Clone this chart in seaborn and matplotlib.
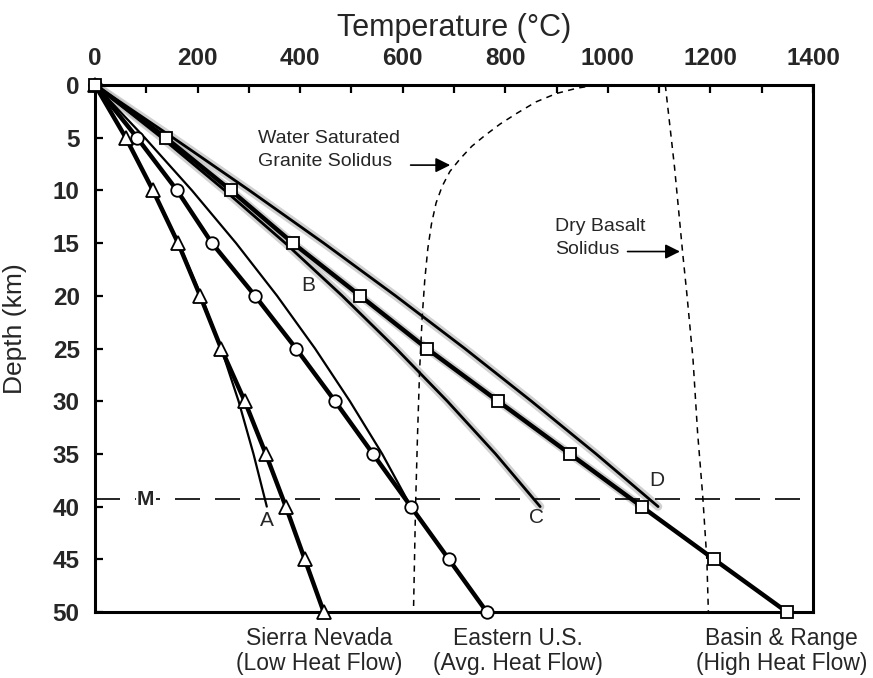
import numpy as np
import seaborn as sns
import matplotlib.pyplot as plt

# Geotherms (depth in km, temperature in deg C)
depth_km = [0, 5, 10, 15, 20, 25, 30, 35, 40, 45, 50]
sierra_nevada_T = [0, 60, 113, 162, 205, 246, 292, 333, 372, 409, 446]
eastern_us_T = [0, 82, 160, 228, 312, 392, 468, 542, 616, 690, 764]
basin_range_T = [0, 138, 265, 386, 517, 647, 786, 926, 1066, 1207, 1349]

# model curves A-D (crust only, down to the Moho)
model_depth = [0, 5, 10, 15, 20, 25, 30, 35, 40]
curve_A_T = [0, 60, 114, 163, 207, 246, 280, 309, 335]
curve_B_T = [0, 97, 189, 275, 355, 429, 497, 560, 616]
curve_C_T = [0, 130, 253, 371, 482, 587, 687, 781, 868]
curve_D_T = [0, 152, 301, 446, 586, 721, 851, 977, 1098]

# solidus curves
granite_T = [978, 940, 900, 860, 822, 790, 760, 735, 712, 692, 677, 665,
             656, 649, 643, 638, 633, 629, 625, 621]
granite_z = [0, 0.3, 0.8, 1.6, 2.7, 3.7, 4.8, 5.8, 7.0, 8.2, 9.6, 11.2,
             13.2, 15.5, 18.5, 22, 27, 33, 40, 50]
basalt_T = [1112, 1130, 1146, 1154, 1166, 1175, 1185, 1193, 1196]
basalt_z = [0, 7.8, 16, 19.8, 26, 33, 39, 45, 50]

moho_depth = 39.3

x_ticks = [0, 200, 400, 600, 800, 1000, 1200, 1400]
y_ticks = [0, 5, 10, 15, 20, 25, 30, 35, 40, 45, 50]

sns.set_theme(style="ticks")
plt.rcParams['font.family'] = ['Liberation Sans', 'DejaVu Sans']

fig = plt.figure(figsize=(8.73, 6.78), dpi=100)
ax = fig.add_axes([95 / 873, 1 - 612 / 678, 718 / 873, 527 / 678])

# grey stippled halo around the high heat flow band
halo = dict(color="#bdbdbd", lw=6, alpha=0.7, zorder=1)
ax.plot(curve_C_T, model_depth, **halo)
ax.plot(curve_D_T, model_depth, **halo)
ax.plot(basin_range_T[:9], depth_km[:9], **halo)

# Moho line
ax.axhline(moho_depth, color="black", lw=1.2, dashes=(15, 9), zorder=2)

# solidus curves
ax.plot(granite_T, granite_z, color="black", lw=1.1, dashes=(4, 3.5), zorder=2)
ax.plot(basalt_T, basalt_z, color="black", lw=1.1, dashes=(4, 3.5), zorder=2)

# model curves
for temps, lw in [(curve_A_T, 1.6), (curve_B_T, 1.6), (curve_C_T, 2.0), (curve_D_T, 2.0)]:
    sns.lineplot(x=temps, y=model_depth, sort=False, estimator=None, ax=ax,
                 color="black", lw=lw, zorder=3)

# observed geotherms
mk = dict(markerfacecolor="white", markeredgecolor="black", markeredgewidth=1.3)
for temps, m, ms in [(sierra_nevada_T, "^", 10), (eastern_us_T, "o", 9), (basin_range_T, "s", 9)]:
    sns.lineplot(x=temps, y=depth_km, sort=False, estimator=None, ax=ax,
                 color="black", lw=3.2, marker=m, markersize=ms, zorder=4,
                 clip_on=False, **mk)

ax.set_xlim(0, 1400)
ax.set_ylim(50, 0)
ax.xaxis.tick_top()
ax.xaxis.set_label_position("top")
ax.set_xticks(x_ticks)
ax.set_xticks(range(100, 1400, 200), minor=True)
ax.set_yticks(y_ticks)
ax.tick_params(axis="both", which="both", direction="in", length=6, width=1.6,
               labelsize=17.5, pad=11, color="black")
ax.tick_params(axis="x", which="both", top=True, bottom=False)
ax.tick_params(axis="y", which="both", left=True, right=False)
for lab in ax.get_xticklabels() + ax.get_yticklabels():
    lab.set_fontweight("bold")

for s in ax.spines.values():
    s.set_linewidth(2.2)
    s.set_color("black")

ax.set_xlabel("Temperature (\u00b0C)", fontsize=22, labelpad=8)
ax.set_ylabel("Depth (km)", fontsize=19)
ax.yaxis.set_label_coords(-0.095, 0.537)

# annotations
ax.text(318, 6.2, "Water Saturated\nGranite Solidus", fontsize=14, ha="left",
        va="center", linespacing=1.45)
ax.annotate("", xy=(698, 7.6), xytext=(610, 7.6),
            arrowprops=dict(arrowstyle="-|>", color="black", lw=1.2, mutation_scale=22))
ax.text(897, 14.5, "Dry Basalt\nSolidus", fontsize=14, ha="left",
        va="center", linespacing=1.45)
ax.annotate("", xy=(1146, 15.8), xytext=(1033, 15.8),
            arrowprops=dict(arrowstyle="-|>", color="black", lw=1.2, mutation_scale=22))

for lab, t, z in [("A", 335, 41.3), ("B", 415, 19.0), ("C", 860, 41.0), ("D", 1096, 37.5)]:
    ax.text(t, z, lab, fontsize=15, ha="center", va="center", zorder=6)
ax.text(99, moho_depth, "M", fontsize=15, fontweight="bold", ha="center", va="center",
        zorder=6, bbox=dict(facecolor="white", edgecolor="none", pad=1))

for name, flow, t in [("Sierra Nevada", "(Low Heat Flow)", 437),
                      ("Eastern U.S.", "(Avg. Heat Flow)", 825),
                      ("Basin & Range", "(High Heat Flow)", 1339)]:
    ax.text(t, 52.5, name, fontsize=16.5, ha="center", va="center", clip_on=False)
    ax.text(t, 54.9, flow, fontsize=16.5, ha="center", va="center", clip_on=False)

fig.savefig("out.png", dpi=100)
